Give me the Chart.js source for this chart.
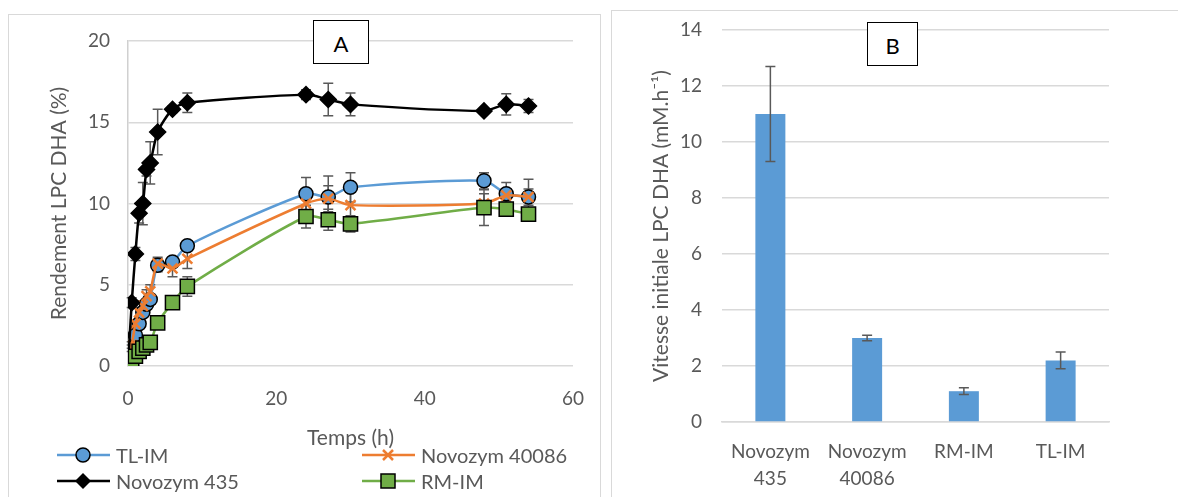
<!DOCTYPE html>
<html>
<head>
<meta charset="utf-8">
<script src="https://cdn.jsdelivr.net/npm/chart.js@4/dist/chart.umd.min.js"></script>
<style>
  body { margin: 0; background: #fff; width: 1178px; height: 497px; overflow: hidden; position: relative; font-family: Lato, 'Open Sans', sans-serif; }
  .panel { position: absolute; border: 1px solid #d9d9d9; box-sizing: border-box; }
  #panelA { left: 8px; top: 14px; width: 593px; height: 490px; }
  #panelB { left: 611px; top: 10px; width: 570px; height: 494px; }
  canvas { position: absolute; left: 0; top: 0; }
  .tag { position: absolute; border: 1px solid #000; background: #fff; font-size: 22px; color: #000; text-align: center; box-sizing: border-box; }
  #tagA { left: 313px; top: 20px; width: 56px; height: 44px; line-height: 46px; }
  #tagB { left: 867px; top: 22px; width: 51px; height: 44px; line-height: 46px; }
  .leg { position: absolute; font-size: 20px; color: #595959; height: 24px; line-height: 24px; white-space: nowrap; }
  .leg svg { position: absolute; left: 0; top: 0; }
  .leg span { position: absolute; top: 0; }
</style>
</head>
<body>
<div class="panel" id="panelA"><canvas id="chartA" width="592" height="483"></canvas></div>
<div class="panel" id="panelB"><canvas id="chartB" width="564" height="487"></canvas></div>
<div class="tag" id="tagA">A</div>
<div class="tag" id="tagB">B</div>
<div id="legend"></div>
<script>
// Panel A : rendement LPC DHA vs temps
const times = [0, 0.5, 1, 1.5, 2, 2.5, 3, 4, 6, 8, 24, 27, 30, 48, 51, 54];
const tlIm      = [0.3, 1.1, 1.9, 2.6, 3.3, 3.8, 4.1, 6.2, 6.4, 7.4, 10.6, 10.4, 11.0, 11.4, 10.6, 10.4];
const tlImErr   = [0, 0.2, 0.2, 0.3, 0.3, 0.3, 0.3, 0.4, 0.2, 0.2, 1.0, 1.3, 0.9, 0.5, 0.7, 1.1];
const nz40086    = [0.5, 1.3, 2.6, 3.3, 3.7, 4.3, 4.6, 6.3, 6.0, 6.6, 10.0, 10.3, 9.9, 10.0, 10.5, 10.4];
const nz40086Err = [0, 0.2, 0.2, 0.3, 0.3, 0.4, 0.4, 0.4, 0.5, 0.6, 0.5, 0.8, 0.8, 0.6, 0.4, 0.5];
const nz435     = [0, 3.9, 6.9, 9.4, 10.0, 12.1, 12.5, 14.4, 15.8, 16.2, 16.7, 16.4, 16.1, 15.7, 16.1, 16.0];
const nz435Err  = [0, 0.3, 0.4, 0.6, 1.3, 0.4, 1.3, 1.4, 0.2, 0.6, 0.3, 1.0, 0.7, 0, 0.65, 0.4];
const rmIm      = [0, 0.3, 0.6, 0.9, 1.1, 1.3, 1.45, 2.65, 3.9, 4.9, 9.2, 9.0, 8.75, 9.75, 9.65, 9.35];
const rmImErr   = [0, 0, 0, 0, 0, 0, 0, 0, 0.2, 0.6, 0.7, 0.65, 0.5, 1.1, 0.3, 0.3];
const yTicksA = [0, 5, 10, 15, 20];
const xTicksA = [0, 20, 40, 60];

// Panel B : vitesse initiale
const enzymes = [['Novozym', '435'], ['Novozym', '40086'], 'RM-IM', 'TL-IM'];
const vitesse = [11.0, 3.0, 1.1, 2.2];
const vitesseErr = [1.7, 0.1, 0.12, 0.3];

const FONT = "Lato, 'Open Sans', sans-serif";
const TEXT = '#595959';
const GRID = '#d9d9d9';
const COLORS = { tl: '#5b9bd5', nz40086: '#ed7d31', nz435: '#000000', rm: '#70ad47' };

// draws vertical error bars from the dataset's "errors" array
const errorBars = {
  id: 'errorBars',
  beforeDatasetsDraw(chart, args, opts) { if (opts.behind) drawErrors(chart); },
  afterDatasetsDraw(chart, args, opts) { if (!opts.behind) drawErrors(chart); }
};

function drawErrors(chart) {
  const ctx = chart.ctx;
  const y = chart.scales.y;
  ctx.save();
  ctx.strokeStyle = '#595959';
  ctx.lineWidth = 1.5;
  chart.data.datasets.forEach((ds, di) => {
    if (!ds.errors) return;
    const meta = chart.getDatasetMeta(di);
    meta.data.forEach((el, i) => {
      const e = ds.errors[i];
      if (!e) return;
      const v = typeof ds.data[i] === 'object' ? ds.data[i].y : ds.data[i];
      const top = y.getPixelForValue(v + e);
      const bot = y.getPixelForValue(v - e);
      ctx.beginPath();
      ctx.moveTo(el.x, top); ctx.lineTo(el.x, bot);
      ctx.moveTo(el.x - 5, top); ctx.lineTo(el.x + 5, top);
      ctx.moveTo(el.x - 5, bot); ctx.lineTo(el.x + 5, bot);
      ctx.stroke();
    });
  });
  ctx.restore();
}

// y scales: fixed width, and no extra top/bottom room from tick padding
function fitY(width) {
  return s => { s.width = width; s.paddingTop = 0; s.paddingBottom = 0; };
}

function series(values) {
  return values.map((v, i) => ({ x: times[i], y: v }));
}

function lineSet(label, values, errors, color, style, radius, fill, order) {
  return {
    label, data: series(values), errors, order,
    borderColor: color, borderWidth: 2.5, tension: 0.25,
    pointStyle: style, pointRadius: radius, pointHoverRadius: radius,
    pointBackgroundColor: fill, pointBorderColor: style === 'crossRot' ? color : '#000',
    pointBorderWidth: style === 'crossRot' ? 2.5 : 1.5
  };
}

new Chart(document.getElementById('chartA'), {
  type: 'line',
  data: {
    datasets: [
      lineSet('TL-IM', tlIm, tlImErr, COLORS.tl, 'circle', 7, COLORS.tl, 4),
      lineSet('Novozym 40086', nz40086, nz40086Err, COLORS.nz40086, 'crossRot', 7, COLORS.nz40086, 3),
      lineSet('Novozym 435', nz435, nz435Err, COLORS.nz435, 'rectRot', 8, '#000', 2),
      lineSet('RM-IM', rmIm, rmImErr, COLORS.rm, 'rect', 10, COLORS.rm, 1)
    ]
  },
  options: {
    responsive: false,
    animation: false,
    layout: { padding: { left: 38, top: 26, right: 28, bottom: 47 } },
    plugins: { legend: { display: false }, tooltip: { enabled: false }, errorBars: { behind: true } },
    scales: {
      x: {
        type: 'linear', min: 0, max: 60,
        afterBuildTicks: s => { s.ticks = xTicksA.map(v => ({ value: v })); },
        afterFit: s => { s.height = 85; },
        grid: { display: false },
        border: { display: false },
        ticks: { color: TEXT, font: { family: FONT, size: 19 }, padding: 13 },
        title: { display: true, text: 'Temps (h)', color: TEXT, font: { family: FONT, size: 21 }, padding: 0 }
      },
      y: {
        min: 0, max: 20,
        afterBuildTicks: s => { s.ticks = yTicksA.map(v => ({ value: v })); },
        afterFit: fitY(81),
        grid: { color: GRID, lineWidth: 1.5, drawTicks: false },
        border: { display: true, color: '#d0d0d0', width: 1.5 },
        ticks: { color: TEXT, font: { family: FONT, size: 19 }, padding: 18 },
        title: { display: true, text: 'Rendement LPC DHA (%)', color: TEXT, font: { family: FONT, size: 21 }, padding: 0 }
      }
    }
  },
  plugins: [errorBars]
});

new Chart(document.getElementById('chartB'), {
  type: 'bar',
  data: {
    labels: enzymes,
    datasets: [{
      label: 'Vitesse initiale', data: vitesse, errors: vitesseErr,
      backgroundColor: COLORS.tl, barPercentage: 0.31, categoryPercentage: 1
    }]
  },
  options: {
    responsive: false,
    animation: false,
    layout: { padding: { left: 37, top: 19, right: 67, bottom: 0 } },
    plugins: { legend: { display: false }, tooltip: { enabled: false }, errorBars: { behind: false } },
    scales: {
      x: {
        afterFit: s => { s.height = 76; },
        grid: { display: false },
        border: { display: true, color: GRID, width: 1.5 },
        ticks: { color: TEXT, font: { family: FONT, size: 19, lineHeight: 1.4 }, padding: 9 }
      },
      y: {
        min: 0, max: 14,
        ticks: { stepSize: 2, color: TEXT, font: { family: FONT, size: 19 }, padding: 20 },
        afterFit: fitY(73),
        grid: { color: GRID, lineWidth: 1.5, drawTicks: false },
        border: { display: false },
        title: { display: true, text: 'Vitesse initiale LPC DHA (mM.h\u207B\u00B9)', color: TEXT, font: { family: FONT, size: 21 }, padding: 0 }
      }
    }
  },
  plugins: [errorBars]
});

// legend of panel A, two columns like the original
const legendItems = [
  { label: 'TL-IM', color: COLORS.tl, marker: 'circle', x: 57, y: 443 },
  { label: 'Novozym 40086', color: COLORS.nz40086, marker: 'cross', x: 362, y: 443 },
  { label: 'Novozym 435', color: COLORS.nz435, marker: 'diamond', x: 57, y: 469 },
  { label: 'RM-IM', color: COLORS.rm, marker: 'square', x: 362, y: 469 }
];

function markerSvg(item) {
  let m = '';
  if (item.marker === 'circle') m = `<circle cx="26" cy="12" r="7" fill="${item.color}" stroke="#000" stroke-width="1.5"/>`;
  if (item.marker === 'cross') m = `<path d="M21 7L31 17M31 7L21 17" stroke="${item.color}" stroke-width="2.5"/>`;
  if (item.marker === 'diamond') m = `<path d="M26 4L34 12L26 20L18 12Z" fill="#000"/>`;
  if (item.marker === 'square') m = `<rect x="19" y="5" width="14" height="14" fill="${item.color}" stroke="#000" stroke-width="1.5"/>`;
  return `<svg width="53" height="24"><line x1="0" y1="12" x2="53" y2="12" stroke="${item.color}" stroke-width="2.5"/>${m}</svg>`;
}

document.getElementById('legend').innerHTML = legendItems.map(it =>
  `<div class="leg" style="left:${it.x}px;top:${it.y}px;width:260px">${markerSvg(it)}<span style="left:59px">${it.label}</span></div>`
).join('');
</script>
</body>
</html>
